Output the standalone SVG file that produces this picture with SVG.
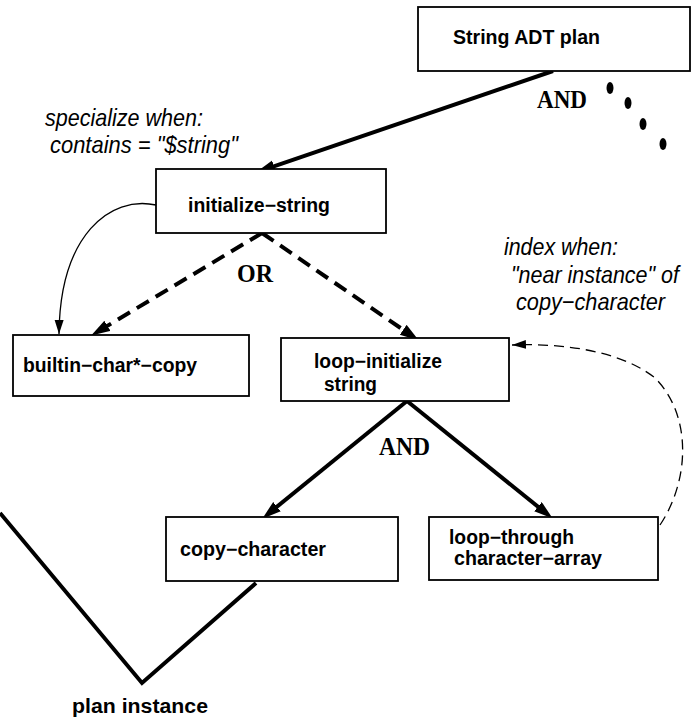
<svg xmlns="http://www.w3.org/2000/svg" width="691" height="720" viewBox="0 0 691 720">
  <style>
    .box { fill: #fff; stroke: #000; stroke-width: 1.8; }
    .lbl { font-family: "Liberation Sans", Arial, sans-serif; font-weight: bold; font-size: 19.5px; fill: #000; }
    .note { font-family: "Liberation Sans", Arial, sans-serif; font-style: italic; font-size: 24px; fill: #000; }
    .op { font-family: "Liberation Serif", "Times New Roman", serif; font-weight: bold; font-size: 26px; fill: #000; }
    .thick { fill: none; stroke: #000; stroke-width: 4; }
    .dash { fill: none; stroke: #000; stroke-width: 4; stroke-dasharray: 14 8; }
    .thin { fill: none; stroke: #000; stroke-width: 1.3; }
    .thindash { fill: none; stroke: #000; stroke-width: 1.3; stroke-dasharray: 10 6; }
  </style>
  <defs>
    <!-- heavy arrowhead: tip sits 10px beyond the line end -->
    <marker id="bigArrow" markerUnits="userSpaceOnUse" markerWidth="21" markerHeight="13" refX="8" refY="6" orient="auto">
      <path d="M0,0 L19,6 L0,12 z" fill="#000"/>
    </marker>
    <!-- light arrowhead: tip at the line end -->
    <marker id="smallArrow" markerUnits="userSpaceOnUse" markerWidth="15" markerHeight="10" refX="14" refY="4.5" orient="auto">
      <path d="M0,0 L14,4.5 L0,9 z" fill="#000"/>
    </marker>
  </defs>

  <g id="connectors">
    <!-- String ADT plan -> initialize-string -->
    <line class="thick" x1="553" y1="71" x2="266.5" y2="168.8" marker-end="url(#bigArrow)"/>
    <!-- OR branches -->
    <line class="dash" x1="262" y1="233" x2="100.6" y2="329.9" marker-end="url(#bigArrow)"/>
    <line class="dash" x1="262" y1="233" x2="409.8" y2="334.3" marker-end="url(#bigArrow)"/>
    <!-- AND branches -->
    <line class="thick" x1="407" y1="401" x2="270.8" y2="511.7" marker-end="url(#bigArrow)"/>
    <line class="thick" x1="407" y1="401" x2="544.2" y2="511.7" marker-end="url(#bigArrow)"/>
    <!-- specialization link -->
    <path class="thin" d="M156,205 C110,195 60,235 59,334" marker-end="url(#smallArrow)"/>
    <!-- index link -->
    <path class="thindash" d="M660,525 C690,480 692,415 655,378 C620,350 560,343 512,345" marker-end="url(#smallArrow)"/>
    <!-- plan instance wedge -->
    <polyline class="thick" points="0,513 142,683 256,583"/>
  </g>

  <g id="ellipsis">
    <ellipse cx="610" cy="88" rx="3.5" ry="6"/>
    <ellipse cx="628" cy="103" rx="3.5" ry="6"/>
    <ellipse cx="643" cy="124" rx="3.5" ry="6"/>
    <ellipse cx="663" cy="144" rx="3.5" ry="6"/>
  </g>

  <g id="op-labels">
    <text class="op" x="537" y="108" textLength="50" lengthAdjust="spacingAndGlyphs">AND</text>
    <text class="op" x="237" y="282" textLength="36" lengthAdjust="spacingAndGlyphs">OR</text>
    <text class="op" x="379" y="455" textLength="51" lengthAdjust="spacingAndGlyphs">AND</text>
  </g>

  <g id="notes">
    <text class="note" x="45" y="126" textLength="158" lengthAdjust="spacingAndGlyphs">specialize when:</text>
    <text class="note" x="50" y="153" textLength="188" lengthAdjust="spacingAndGlyphs">contains = "$string"</text>
    <text class="note" x="504" y="255" textLength="114" lengthAdjust="spacingAndGlyphs">index when:</text>
    <text class="note" x="511" y="283" font-size="22" textLength="168" lengthAdjust="spacingAndGlyphs">"near instance" of</text>
    <text class="note" x="516" y="310" textLength="149" lengthAdjust="spacingAndGlyphs">copy−character</text>
  </g>

  <g id="string-adt-plan">
    <rect class="box" x="418" y="7" width="272" height="64"/>
    <text class="lbl" x="453" y="44" textLength="147" lengthAdjust="spacingAndGlyphs">String ADT plan</text>
  </g>

  <g id="initialize-string">
    <rect class="box" x="156" y="169" width="230" height="64"/>
    <text class="lbl" x="188" y="212" textLength="142" lengthAdjust="spacingAndGlyphs">initialize−string</text>
  </g>

  <g id="builtin-char-copy">
    <rect class="box" x="13" y="335" width="236" height="61"/>
    <text class="lbl" x="23" y="372" textLength="174" lengthAdjust="spacingAndGlyphs">builtin−char*−copy</text>
  </g>

  <g id="loop-initialize-string">
    <rect class="box" x="281" y="338" width="228" height="63"/>
    <text class="lbl" x="314" y="368" textLength="128" lengthAdjust="spacingAndGlyphs">loop−initialize</text>
    <text class="lbl" x="324" y="391" textLength="53" lengthAdjust="spacingAndGlyphs">string</text>
  </g>

  <g id="copy-character">
    <rect class="box" x="166" y="517" width="232" height="64"/>
    <text class="lbl" x="180" y="556" textLength="146" lengthAdjust="spacingAndGlyphs">copy−character</text>
  </g>

  <g id="loop-through-character-array">
    <rect class="box" x="429" y="517" width="229" height="63"/>
    <text class="lbl" x="449" y="544" textLength="125" lengthAdjust="spacingAndGlyphs">loop−through</text>
    <text class="lbl" x="454" y="565" textLength="148" lengthAdjust="spacingAndGlyphs">character−array</text>
  </g>

  <g id="plan-instance">
    <text class="lbl" x="72" y="713" textLength="136" lengthAdjust="spacingAndGlyphs">plan instance</text>
  </g>
</svg>
